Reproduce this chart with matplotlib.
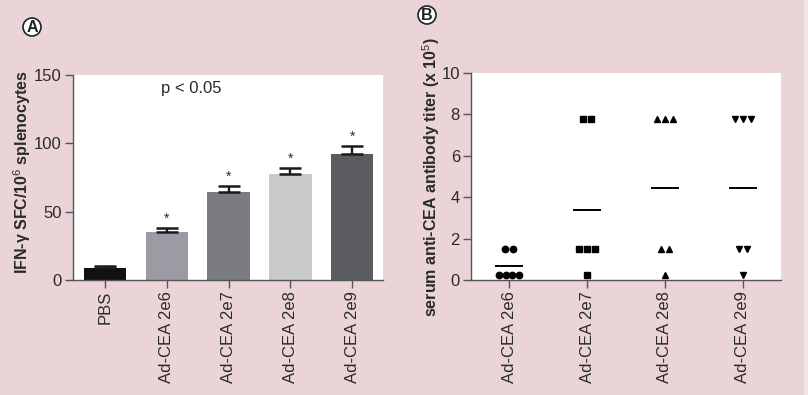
import numpy as np
import matplotlib
matplotlib.use('Agg')
import matplotlib.pyplot as plt
from matplotlib.patches import Circle, Rectangle

# Painel A: ELISPOT IFN-gamma
grupos_a = ['PBS', 'Ad-CEA 2e6', 'Ad-CEA 2e7', 'Ad-CEA 2e8', 'Ad-CEA 2e9']
medias_a = [9, 35, 64.5, 77.5, 92]
erros_a = [1, 3, 4.5, 4.5, 6]
cores_a = ['#111111', '#9c9ba3', '#7b7c82', '#c9c9c9', '#5b5c62']
signif_a = [False, True, True, True, True]

# Painel B: titulo de anticorpos anti-CEA (x 10^5)
grupos_b = ['Ad-CEA 2e6', 'Ad-CEA 2e7', 'Ad-CEA 2e8', 'Ad-CEA 2e9']
titulos_b = [
    [1.5, 1.5, 0.25, 0.25, 0.25, 0.25],
    [7.8, 7.8, 1.5, 1.5, 1.5, 0.25],
    [7.8, 7.8, 7.8, 1.5, 1.5, 0.25],
    [7.8, 7.8, 7.8, 1.5, 1.5, 0.25],
]
marcadores_b = ['o', 's', '^', 'v']

FUNDO = '#ead4d7'
TEXTO = '#2a2a2a'

plt.rcParams['font.family'] = ['Liberation Sans', 'DejaVu Sans']
plt.rcParams['mathtext.fontset'] = 'custom'
plt.rcParams['mathtext.rm'] = 'Liberation Sans'
plt.rcParams['mathtext.bf'] = 'Liberation Sans:bold'

fig = plt.figure(figsize=(8.08, 3.95), dpi=100, facecolor=FUNDO)
fig.patches.append(Rectangle((804 / 808, 0), 4 / 808, 1, transform=fig.transFigure,
                             facecolor='#f2e4e6', edgecolor='none', zorder=0))

ax1 = fig.add_axes([73 / 808, 115 / 395, 310 / 808, 205 / 395])
ax2 = fig.add_axes([471 / 808, 115 / 395, 310 / 808, 207 / 395])


def estilo_eixo(ax):
    for lado in ['top', 'right']:
        ax.spines[lado].set_visible(False)
    for lado in ['left', 'bottom']:
        ax.spines[lado].set_color('#555555')
        ax.spines[lado].set_linewidth(1.0)
    ax.tick_params(direction='out', length=6, width=1.0, color='#555555',
                   labelsize=12, labelcolor=TEXTO, pad=2)
    ax.set_facecolor('white')


# ---- Painel A ----
x_a = np.arange(len(grupos_a))
ax1.bar(x_a, medias_a, width=0.69, color=cores_a, zorder=2)
ax1.errorbar(x_a, medias_a, yerr=[np.zeros(len(erros_a)), erros_a], fmt='none',
             ecolor='#1a1a1a', elinewidth=1.7, capsize=8, capthick=1.8, zorder=3)
for xi, m, e, s in zip(x_a, medias_a, erros_a, signif_a):
    if s:
        ax1.text(xi, m + e + 1.5, '*', ha='center', va='bottom', fontsize=10, color=TEXTO)
ax1.set_xlim(-0.52, 4.5)
ax1.set_ylim(0, 150)
ax1.set_yticks([0, 50, 100, 150])
ax1.set_xticks(x_a)
ax1.set_xticklabels(grupos_a, rotation=90)
ax1.text(1.4, 140, 'p < 0.05', ha='center', va='center', fontsize=12, color=TEXTO)
ax1.set_ylabel('IFN-γ SFC/10$^{6}$ splenocytes', fontsize=11.5, fontweight='bold',
               color=TEXTO)
ax1.yaxis.set_label_coords(-0.128, 0.525)
estilo_eixo(ax1)

# ---- Painel B ----
for i, (vals, mk) in enumerate(zip(titulos_b, marcadores_b)):
    vals = np.array(vals)
    for v in np.unique(vals):
        n = np.sum(vals == v)
        passo = 0.085 if n >= 4 else 0.105
        offs = (np.arange(n) - (n - 1) / 2) * passo
        ax2.plot(i + offs, [v] * n, linestyle='none', marker=mk, markersize=4.6,
                 color='black', clip_on=False, zorder=3)
    media = vals.mean()
    ax2.plot([i - 0.17, i + 0.17], [media, media], color='black', linewidth=1.4, zorder=3)
ax2.set_xlim(-0.49, 3.49)
ax2.set_ylim(0, 10)
ax2.set_yticks([0, 2, 4, 6, 8, 10])
ax2.set_xticks(np.arange(len(grupos_b)))
ax2.set_xticklabels(grupos_b, rotation=90)
ax2.set_ylabel(r'serum anti-CEA antibody titer (x 10$^{5}$)', fontsize=11.5, fontweight='bold',
               color=TEXTO)
ax2.yaxis.set_label_coords(-0.092, 0.5)
estilo_eixo(ax2)

# Rotulos circulados A e B
for (cx, cy), letra in [((32, 27), 'A'), ((427, 15), 'B')]:
    fx, fy = cx / 808, 1 - cy / 395
    fig.patches.append(Circle((cx, 395 - cy), 9, transform=None, facecolor='white',
                              edgecolor='#222222', linewidth=1.2))
    fig.text(fx, fy, letra, ha='center', va='center', fontsize=11.5, fontweight='bold',
             color='#222222')

plt.savefig('out.png', dpi=100, facecolor=FUNDO)
